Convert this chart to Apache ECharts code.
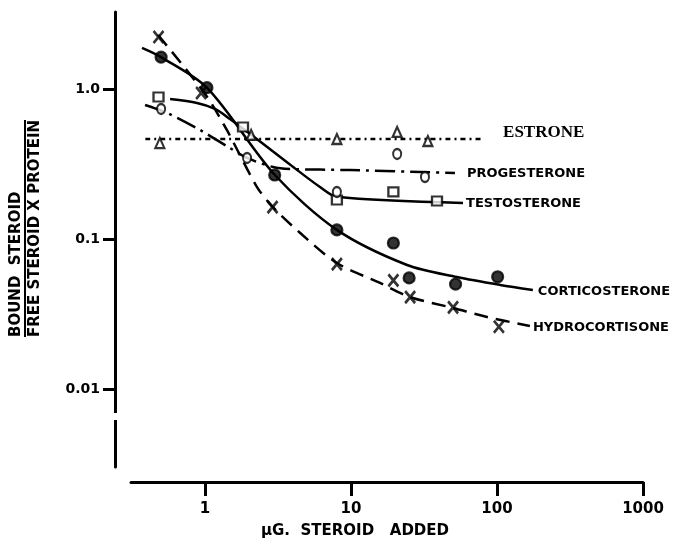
<!DOCTYPE html>
<html>
<head>
<meta charset="utf-8">
<script src="https://cdn.jsdelivr.net/npm/echarts@6/dist/echarts.min.js"></script>
<style>
  html, body { margin: 0; padding: 0; background: #fff; }
  #chart { width: 679px; height: 544px; }
</style>
</head>
<body>
<div id="chart"></div>
<script>
// measured points (µg added, bound/free x protein)
const hydroX = [0.48, 0.94, 2.9, 8, 19.5, 25.4, 50, 103];
const hydroY = [2.22, 0.94, 0.163, 0.068, 0.053, 0.041, 0.035, 0.026];
const cortX = [0.5, 1.03, 3.0, 8, 19.5, 25, 52, 101];
const cortY = [1.63, 1.02, 0.267, 0.115, 0.094, 0.055, 0.050, 0.056];
const testoX = [0.48, 1.82, 8, 19.5, 38.8];
const testoY = [0.884, 0.558, 0.182, 0.206, 0.179];
const progX = [0.5, 1.94, 8, 20.7, 32.1];
const progY = [0.736, 0.347, 0.206, 0.369, 0.259];
const estX = [0.49, 2.07, 8, 20.7, 33.6];
const estY = [0.436, 0.494, 0.464, 0.517, 0.45];

// hand-drawn curves
const estCurveX = [0.39, 79];
const estCurveY = [0.464, 0.464];
const progCurveX = [0.388, 0.549, 0.924, 1.48, 1.94, 2.92, 3.82, 9.84, 51.5];
const progCurveY = [0.782, 0.692, 0.533, 0.404, 0.347, 0.302, 0.293, 0.288, 0.275];
const testoCurveX = [0.576, 0.881, 1.17, 1.48, 2.31, 3.70, 6.13, 8.0, 58.5];
const testoCurveY = [0.858, 0.807, 0.736, 0.631, 0.457, 0.321, 0.222, 0.191, 0.174];
const cortCurveX = [0.37, 0.5, 1.03, 3.01, 8.0, 24.2, 53.2, 105, 176];
const cortCurveY = [1.88, 1.63, 1.02, 0.267, 0.115, 0.0671, 0.0558, 0.0494, 0.0457];
const hydroCurveX = [0.477, 1.0, 1.41, 2.27, 2.92, 4.47, 8.0, 15.8, 25.4, 50, 85.4, 168];
const hydroCurveY = [2.29, 0.926, 0.533, 0.222, 0.163, 0.110, 0.0692, 0.0509, 0.041, 0.0347, 0.0302, 0.0263];

const xTicks = [1, 10, 100, 1000];
const yTicks = [0.01, 0.1, 1];
const yTickText = { 0.01: '0.01', 0.1: '0.1', 1: '1.0' };

const SANS = '"DejaVu Sans", sans-serif';
const pts = (xs, ys) => xs.map((x, i) => [x, ys[i]]);

function curve(name, xs, ys, type, dist, offset, font) {
  return {
    type: 'line', name, data: pts(xs, ys), smooth: 0.3, symbol: 'none',
    lineStyle: { color: '#000', width: 2.5, type },
    endLabel: {
      show: true, formatter: name, distance: dist, offset: offset || [0, 0],
      color: '#000', fontWeight: 'bold', fontSize: font ? 17 : 13,
      fontFamily: font || SANS,
    },
    silent: true, animation: false, z: 2,
  };
}

function marks(xs, ys, symbol, size, fill, bw) {
  return {
    type: 'scatter', data: pts(xs, ys), symbol, symbolSize: size,
    itemStyle: { color: fill, borderColor: '#000', borderWidth: bw || 2.2 },
    silent: true, animation: false, z: 3,
  };
}

const chart = echarts.init(document.getElementById('chart'));
chart.setOption({
  backgroundColor: '#fff',
  animation: false,
  grid: { left: 131, right: 36, top: 12, bottom: 77 },
  xAxis: {
    type: 'log', min: 0.311, max: 1000, offset: 15,
    axisLine: { lineStyle: { color: '#000', width: 3 } },
    axisTick: { customValues: xTicks, length: 14, lineStyle: { color: '#000', width: 3 } },
    axisLabel: {
      customValues: xTicks, margin: 20, color: '#000', fontWeight: 'bold',
      fontSize: 15, fontFamily: SANS, formatter: v => String(v),
    },
    splitLine: { show: false },
    name: 'µG.  STEROID   ADDED', nameLocation: 'middle', nameGap: 42,
    nameTextStyle: {
      color: '#000', fontWeight: 'bold', fontSize: 15, fontFamily: SANS,
      padding: [0, 64, 0, 0],
    },
  },
  yAxis: {
    type: 'log', min: 0.00302, max: 3.26, offset: 16,
    axisLine: { lineStyle: { color: '#000', width: 3 } },
    axisTick: { customValues: yTicks, length: 12, lineStyle: { color: '#000', width: 3 } },
    axisLabel: {
      customValues: yTicks, margin: 15, color: '#000', fontWeight: 'bold',
      fontSize: 14, fontFamily: SANS,
      formatter: v => yTickText[v] || '',
    },
    splitLine: { show: false },
  },
  graphic: [
    // break in the y axis
    { type: 'rect', shape: { x: 111, y: 413, width: 8, height: 7 }, style: { fill: '#fff' }, z: 100 },
    {
      type: 'group', x: 25, y: 337, rotation: Math.PI / 2,
      children: [
        { type: 'line', shape: { x1: 0, y1: 0, x2: 217, y2: 0 }, style: { stroke: '#000', lineWidth: 2 } },
        { type: 'text', x: 0, y: -9, style: { text: 'BOUND  STEROID', fill: '#000', font: 'bold 15px ' + SANS, align: 'left', verticalAlign: 'middle', textAlign: 'left', textVerticalAlign: 'middle' } },
        { type: 'text', x: 0, y: 10, style: { text: 'FREE STEROID X PROTEIN', fill: '#000', font: 'bold 15px ' + SANS, align: 'left', verticalAlign: 'middle', textAlign: 'left', textVerticalAlign: 'middle' } },
      ],
    },
  ],
  series: [
    curve('ESTRONE', estCurveX, estCurveY, [5, 4, 2, 4], 21, [0, -6], '"Liberation Serif", serif'),
    curve('PROGESTERONE', progCurveX, progCurveY, [20, 6, 3, 6], 12, [0, 1]),
    curve('TESTOSTERONE', testoCurveX, testoCurveY, 'solid', 3, [0, 1]),
    curve('CORTICOSTERONE', cortCurveX, cortCurveY, 'solid', 5, [0, 2]),
    curve('HYDROCORTISONE', hydroCurveX, hydroCurveY, [14, 8], 3, [0, 2]),
    marks(hydroX, hydroY, 'path://M0,0L10,12M10,0L0,12', [10, 12], 'none', 2.8),
    marks(cortX, cortY, 'circle', 11, '#000'),
    marks(testoX, testoY, 'rect', [10, 9], '#fff'),
    marks(progX, progY, 'circle', [8, 10], '#fff'),
    marks(estX, estY, 'triangle', [9, 10], '#fff'),
  ],
});
</script>
</body>
</html>
